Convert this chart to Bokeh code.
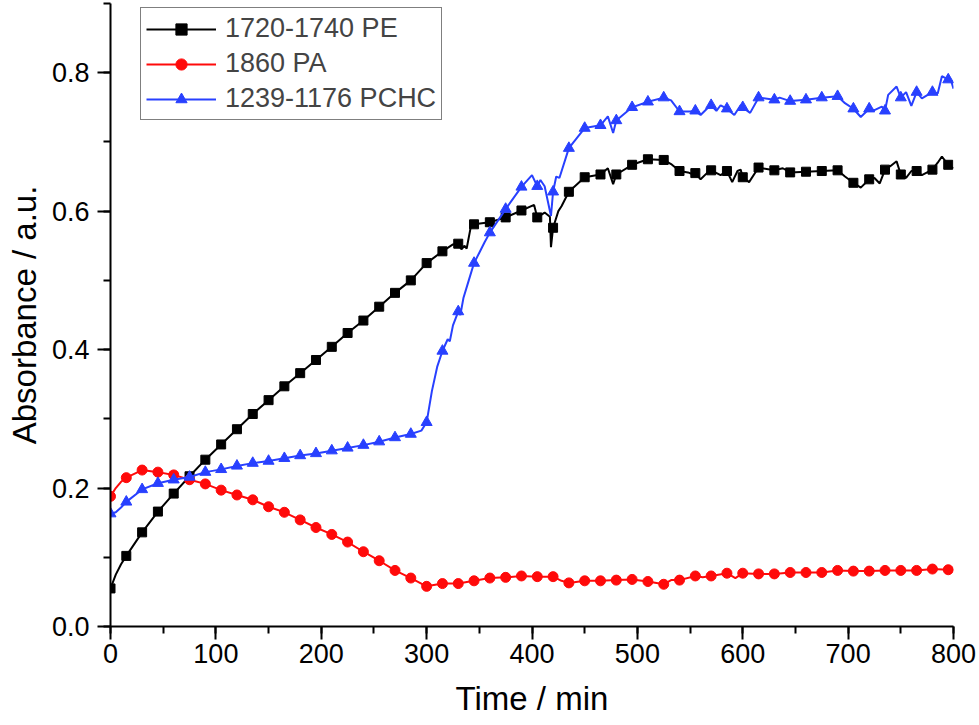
from bokeh.plotting import figure
from bokeh.models import Range1d, Legend, LegendItem, FixedTicker
from bokeh.embed import file_html
from bokeh.resources import INLINE

# ---- data ----
pe_t = [0, 5, 10, 15, 30, 45, 60, 75, 90, 105, 120, 135, 150, 165, 180, 195, 210, 225, 240, 255,
        270, 285, 300, 315, 325, 330, 333, 336, 338, 342, 345, 360, 375, 390, 402, 405, 412, 417,
        418, 420, 425, 428, 435, 450, 465, 472, 477, 480, 495, 510, 525, 532, 540, 548, 553, 555,
        560, 566, 570, 579, 585, 590, 595, 598, 600, 606, 615, 630, 638, 645, 660, 675, 690, 697,
        705, 712, 720, 725, 730, 735, 740, 746, 750, 755, 760, 765, 770, 780, 785, 789, 795, 800]
pe_v = [0.055, 0.075, 0.090, 0.102, 0.136, 0.166, 0.192, 0.217, 0.241, 0.263, 0.285, 0.307, 0.327,
        0.347, 0.366, 0.385, 0.404, 0.424, 0.442, 0.462, 0.482, 0.500, 0.525, 0.542, 0.552, 0.553,
        0.545, 0.550, 0.546, 0.578, 0.581, 0.584, 0.591, 0.601, 0.609, 0.591, 0.598, 0.592, 0.548,
        0.576, 0.600, 0.607, 0.628, 0.649, 0.653, 0.662, 0.639, 0.653, 0.667, 0.675, 0.674, 0.668,
        0.658, 0.656, 0.653, 0.655, 0.646, 0.655, 0.659, 0.652, 0.658, 0.642, 0.658, 0.660, 0.649,
        0.642, 0.663, 0.659, 0.662, 0.656, 0.657, 0.658, 0.659, 0.650, 0.641, 0.634, 0.646, 0.648,
        0.640, 0.660, 0.665, 0.672, 0.653, 0.648, 0.658, 0.658, 0.652, 0.660, 0.670, 0.679, 0.667,
        0.662]

pa_t = [0, 5, 10, 15, 30, 45, 60, 75, 90, 105, 120, 135, 150, 165, 180, 195, 210, 225, 240, 255,
        270, 285, 300, 315, 330, 345, 360, 375, 390, 405, 420, 428, 435, 450, 465, 480, 495, 510,
        525, 532, 540, 555, 562, 570, 585, 593, 600, 615, 630, 645, 660, 675, 690, 705, 720, 735,
        750, 765, 780, 795, 800]
pa_v = [0.188, 0.200, 0.209, 0.215, 0.226, 0.223, 0.219, 0.212, 0.206, 0.197, 0.190, 0.183, 0.173,
        0.165, 0.154, 0.143, 0.133, 0.122, 0.108, 0.095, 0.081, 0.070, 0.058, 0.062, 0.062, 0.066,
        0.070, 0.071, 0.073, 0.072, 0.072, 0.066, 0.063, 0.066, 0.066, 0.067, 0.068, 0.065, 0.061,
        0.067, 0.067, 0.073, 0.071, 0.073, 0.077, 0.070, 0.077, 0.076, 0.076, 0.078, 0.078, 0.078,
        0.081, 0.080, 0.080, 0.081, 0.081, 0.081, 0.083, 0.082, 0.082]

pchc_t = [0, 5, 10, 15, 30, 45, 60, 75, 90, 105, 120, 135, 150, 165, 180, 195, 210, 225, 240, 255,
          270, 285, 295, 300, 305, 310, 315, 320, 322, 325, 330, 332, 335, 340, 345, 350, 355, 360,
          375, 390, 400, 405, 408, 412, 418, 420, 423, 426, 435, 450, 465, 472, 477, 480, 495, 510,
          525, 532, 540, 545, 550, 555, 560, 566, 570, 575, 579, 585, 592, 598, 600, 607, 615, 630,
          635, 645, 660, 675, 690, 697, 705, 712, 720, 725, 732, 735, 738, 746, 750, 755, 760, 765,
          770, 780, 785, 789, 795, 798, 800]
pchc_v = [0.163, 0.165, 0.172, 0.180, 0.198, 0.207, 0.212, 0.216, 0.223, 0.227, 0.232, 0.236, 0.239,
          0.243, 0.247, 0.250, 0.254, 0.258, 0.262, 0.267, 0.273, 0.278, 0.283, 0.295, 0.340, 0.375,
          0.398, 0.415, 0.412, 0.435, 0.455, 0.450, 0.475, 0.500, 0.525, 0.540, 0.555, 0.569, 0.603,
          0.635, 0.652, 0.636, 0.645, 0.636, 0.593, 0.628, 0.650, 0.648, 0.691, 0.720, 0.724, 0.737,
          0.713, 0.731, 0.750, 0.758, 0.764, 0.760, 0.744, 0.744, 0.744, 0.745, 0.739, 0.748, 0.753,
          0.745, 0.753, 0.748, 0.739, 0.753, 0.750, 0.742, 0.764, 0.761, 0.764, 0.759, 0.761, 0.764,
          0.766, 0.756, 0.748, 0.736, 0.748, 0.746, 0.751, 0.745, 0.768, 0.780, 0.764, 0.772, 0.752,
          0.772, 0.763, 0.772, 0.770, 0.795, 0.790, 0.787, 0.777]

series_names = ["1720-1740 PE", "1860 PA", "1239-1176 PCHC"]
x_ticks = [0, 100, 200, 300, 400, 500, 600, 700, 800]
y_ticks = [0.0, 0.2, 0.4, 0.6, 0.8]
MARK_STEP = 15

BLACK = "#000000"
RED = "#ff0a0a"
BLUE = "#2840ff"
FONT = "Liberation Sans"

FRAME_W = 843
FRAME_H = 623
p = figure(frame_width=FRAME_W, frame_height=FRAME_H, output_backend="svg", toolbar_location=None,
           x_range=Range1d(0, 800), y_range=Range1d(0, 0.9),
           min_border_left=110, min_border_right=25, min_border_top=3, min_border_bottom=98)
p.outline_line_color = None
p.grid.visible = False
p.background_fill_color = "white"


def marker_subset(ts, vs):
    mt = [t for t in ts if t % MARK_STEP == 0 and t < 800]
    mv = [v for t, v in zip(ts, vs) if t % MARK_STEP == 0 and t < 800]
    return mt, mv


r_items = []
specs = [(pe_t, pe_v, BLACK, "square", 9),
         (pa_t, pa_v, RED, "circle", 10),
         (pchc_t, pchc_v, BLUE, "triangle", 11)]
for (ts, vs, col, mk, sz), name in zip(specs, series_names):
    ln = p.line(ts, vs, line_color=col, line_width=2)
    mt, mv = marker_subset(ts, vs)
    sc = p.scatter(mt, mv, marker=mk, size=sz, fill_color=col, line_color=col)
    r_items.append(LegendItem(label=name, renderers=[ln, sc]))

LEG_H = 109
legend = Legend(items=r_items, location=(30, FRAME_H - 8 - LEG_H))
legend.label_text_font = FONT
legend.label_text_font_size = "27px"
legend.glyph_width = 70
legend.glyph_height = 28
legend.label_height = 28
legend.spacing = 4
legend.padding = 5
legend.margin = 0
legend.label_standoff = 9
legend.border_line_color = "black"
legend.border_line_width = 1.5
legend.background_fill_alpha = 1
p.add_layout(legend, "center")

for ax in (p.xaxis[0], p.yaxis[0]):
    ax.axis_line_width = 2
    ax.major_tick_line_width = 2
    ax.minor_tick_line_width = 2
    ax.major_tick_out = 13
    ax.major_tick_in = 0
    ax.minor_tick_out = 7
    ax.minor_tick_in = 0
    ax.major_label_text_font = FONT
    ax.major_label_text_font_size = "27px"
    ax.major_label_text_color = "black"
    ax.axis_label_text_font = FONT
    ax.axis_label_text_font_size = "33px"
    ax.axis_label_text_font_style = "normal"
    ax.axis_label_text_color = "black"

p.xaxis[0].ticker = FixedTicker(ticks=x_ticks, minor_ticks=list(range(0, 801, 50)))
p.yaxis[0].ticker = FixedTicker(ticks=y_ticks, minor_ticks=[i / 10 for i in range(0, 10)])
p.yaxis[0].major_label_overrides = {t: f"{t:.1f}" for t in y_ticks}
p.xaxis[0].axis_label = "Time / min"
p.yaxis[0].axis_label = "Absorbance / a.u."
p.xaxis[0].major_label_standoff = 4
p.yaxis[0].major_label_standoff = 8
p.xaxis[0].axis_label_standoff = 14
p.yaxis[0].axis_label_standoff = 6

open("out.html", "w").write(file_html(p, INLINE))
